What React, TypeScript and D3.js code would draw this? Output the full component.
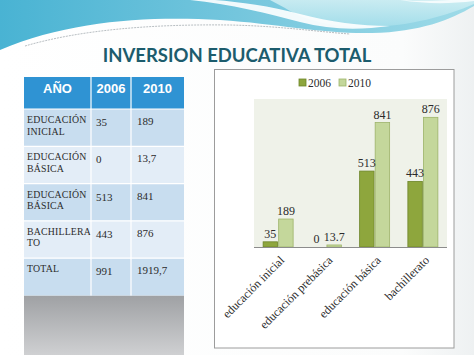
import React from "react";
import * as d3 from "d3";

const title = "INVERSION EDUCATIVA TOTAL";
const tableHeader = ["AÑO", "2006", "2010"];
const tableRowLabels = [["EDUCACIÓN", "INICIAL"], ["EDUCACIÓN", "BÁSICA"], ["EDUCACIÓN", "BÁSICA"], ["BACHILLERA", "TO"], ["TOTAL"]];
const table2006 = ["35", "0", "513", "443", "991"];
const table2010 = ["189", "13,7", "841", "876", "1919,7"];

const categories = ["educación inicial", "educación prebásica", "educación básica", "bachillerato"];
const seriesNames = ["2006", "2010"];
const values2006 = [35, 0, 513, 443];
const values2010 = [189, 13.7, 841, 876];
const labels2006 = ["35", "0", "513", "443"];
const labels2010 = ["189", "13.7", "841", "876"];

const colors = { "2006": "#8ea63d", "2010": "#c4d79b" };
const strokes = { "2006": "#6d8529", "2010": "#9db46a" };

export default function App() {
  const W = 474, H = 355;
  const tx = [24, 91, 131, 184];
  const headerTop = 77, headerBottom = 109, rowH = 37.3;

  const plot = { left: 254, right: 447, top: 99, bottom: 247 };
  const x0 = d3.scaleBand<string>().domain(categories).range([plot.left, plot.right]).padding(0);
  const y = d3.scaleLinear().domain([0, 1000]).range([plot.bottom, plot.top]);
  const groupW = 30;
  const x1 = d3.scaleBand<string>().domain(seriesNames).range([0, groupW]).paddingInner(0.07);
  const serif = "'Liberation Serif', 'DejaVu Serif', serif";

  const bars: any[] = [];
  categories.forEach((c, i) => {
    const gx = (x0(c) as number) + x0.bandwidth() / 2 - groupW / 2;
    [
      { s: "2006", v: values2006[i], l: labels2006[i] },
      { s: "2010", v: values2010[i], l: labels2010[i] },
    ].forEach((d) => {
      bars.push({ c, s: d.s, v: d.v, l: d.l, x: gx + (x1(d.s) as number), w: x1.bandwidth() });
    });
  });

  return (
    <svg width={W} height={H} style={{ position: "absolute", left: 0, top: 0 }}>
      <defs>
        <linearGradient id="wave" x1="0" y1="0" x2="1" y2="0">
          <stop offset="0" stopColor="#49b3d3" />
          <stop offset="0.5" stopColor="#74c6dd" />
          <stop offset="1" stopColor="#9fdbe8" />
        </linearGradient>
        <linearGradient id="aqua" x1="0" y1="0" x2="0" y2="1">
          <stop offset="0" stopColor="#d4f0f4" />
          <stop offset="1" stopColor="#a6dfeb" />
        </linearGradient>
        <linearGradient id="shadow" x1="0" y1="0" x2="0" y2="1">
          <stop offset="0" stopColor="#9fa1a4" />
          <stop offset="1" stopColor="#cfd0d2" />
        </linearGradient>
        <linearGradient id="bg" x1="0" y1="0" x2="1" y2="0">
          <stop offset="0" stopColor="#ffffff" />
          <stop offset="0.85" stopColor="#fbfcfc" />
          <stop offset="1" stopColor="#eef1f2" />
        </linearGradient>
      </defs>
      <rect x={0} y={0} width={W} height={H} fill="url(#bg)" />
      <path d="M0,0 H474 V6 C450,20 420,32 372,33 C322,34 280,24 220,20 C150,16 70,20 0,50 Z" fill="url(#wave)" />
      <path d="M270,0 H474 V4 C446,16 410,26 370,27 C330,28 300,18 285,8 Z" fill="url(#aqua)" opacity={0.85} />
      <path d="M190,0 C230,4 270,14 300,22 C330,30 360,30 390,26 C360,26 330,22 300,14 C270,6 240,2 215,0 Z" fill="#ffffff" opacity={0.9} />
      <path d="M400,0 C430,2 455,0 474,-2 V1 C450,4 425,4 400,0 Z" fill="#ffffff" opacity={0.8} />
      <path d="M25,46 C80,30 150,24 230,25 C280,26 320,32 350,34" fill="none" stroke="#9aa3a8" strokeWidth={1} strokeDasharray="2,1" opacity={0.7} />

      <text x={237} y={62} textAnchor="middle" fontFamily="Lato, 'Open Sans', sans-serif" fontWeight={700} fontSize={18.5} fill="#1c5c6d">{title}</text>

      <rect x={tx[0]} y={headerBottom + 5 * rowH} width={tx[3] - tx[0]} height={H - (headerBottom + 5 * rowH)} fill="url(#shadow)" />
      <rect x={tx[0]} y={headerTop} width={tx[3] - tx[0]} height={headerBottom - headerTop} fill="#2f93d3" />
      {tableHeader.map((h, j) => (
        <text key={h} x={(tx[j] + tx[j + 1]) / 2} y={93} textAnchor="middle" fontFamily="'Liberation Sans', Arial, sans-serif" fontWeight={700} fontSize={13} fill="#ffffff">{h}</text>
      ))}
      {tableRowLabels.map((lab, i) => {
        const top = headerBottom + i * rowH;
        return (
          <g key={i}>
            <rect x={tx[0]} y={top} width={tx[3] - tx[0]} height={rowH} fill={i % 2 === 0 ? "#c8ddef" : "#e3edf7"} />
            {lab.map((t, k) => (
              <text key={k} x={27} y={top + 14 + k * 11.5} fontFamily={serif} fontSize={9.8} fill="#2b2b2b" letterSpacing={0.2}>{t}</text>
            ))}
            <text x={96} y={top + 17} fontFamily={serif} fontSize={11} fill="#2b2b2b">{table2006[i]}</text>
            <text x={137} y={top + 16} fontFamily={serif} fontSize={11} fill="#2b2b2b">{table2010[i]}</text>
          </g>
        );
      })}
      {[1, 2].map((j) => (
        <line key={j} x1={tx[j]} x2={tx[j]} y1={headerTop} y2={headerBottom + 5 * rowH} stroke="#ffffff" strokeWidth={1.2} />
      ))}
      {tableRowLabels.map((_, i) => (
        <line key={i} x1={tx[0]} x2={tx[3]} y1={headerBottom + i * rowH} y2={headerBottom + i * rowH} stroke="#ffffff" strokeWidth={1.2} />
      ))}

      <rect x={214.5} y={69.5} width={239.5} height={278.5} fill="#ffffff" stroke="#9c9c9c" strokeWidth={1} />
      {seriesNames.map((s, i) => {
        const lx = [299, 339][i];
        return (
          <g key={s}>
            <rect x={lx} y={79} width={7} height={7} fill={(colors as any)[s]} stroke={(strokes as any)[s]} strokeWidth={0.8} />
            <text x={lx + 9} y={87} fontFamily={serif} fontSize={11.5} fill="#2b2b2b">{s}</text>
          </g>
        );
      })}
      <rect x={plot.left} y={plot.top} width={plot.right - plot.left} height={plot.bottom - plot.top} fill="#eff2e9" />
      {bars.map((b, i) => (
        <rect key={i} x={b.x} y={y(b.v)} width={b.w} height={plot.bottom - y(b.v)} fill={(colors as any)[b.s]} stroke={(strokes as any)[b.s]} strokeWidth={0.8} />
      ))}
      <line x1={plot.left} x2={plot.right} y1={plot.bottom + 0.5} y2={plot.bottom + 0.5} stroke="#8c8c8c" strokeWidth={1} />
      {bars.map((b, i) => (
        <text key={"l" + i} x={b.x + b.w / 2 + (b.v === 0 ? -2 : 0)} y={y(b.v) - 4} textAnchor="middle" fontFamily={serif} fontSize={12} fill="#2b2b2b">{b.l}</text>
      ))}
      {categories.map((c) => {
        const cx = (x0(c) as number) + x0.bandwidth() / 2 + 7;
        return (
          <text key={c} transform={`translate(${cx},${plot.bottom + 14}) rotate(-45)`} textAnchor="end" fontFamily={serif} fontSize={12} fill="#2b2b2b">{c}</text>
        );
      })}
    </svg>
  );
}
